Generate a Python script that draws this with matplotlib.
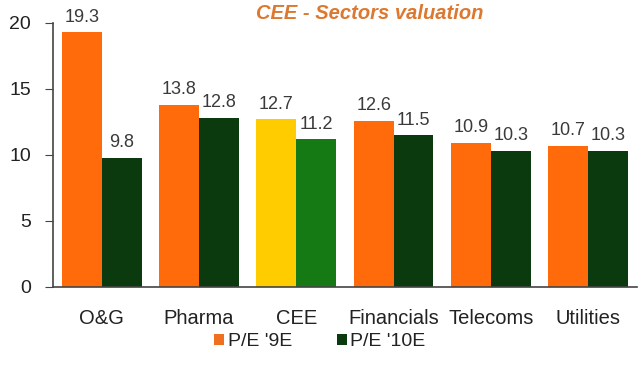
import matplotlib
matplotlib.use("Agg")
import matplotlib.pyplot as plt
import numpy as np
from matplotlib.patches import Patch

plt.rcParams["font.family"] = ["Liberation Sans", "DejaVu Sans"]

categories = ["O&G", "Pharma", "CEE", "Financials", "Telecoms", "Utilities"]
pe_9e = [19.3, 13.8, 12.7, 12.6, 10.9, 10.7]
pe_10e = [9.8, 12.8, 11.2, 11.5, 10.3, 10.3]
series_names = ["P/E '9E", "P/E '10E"]
yticks = [0, 5, 10, 15, 20]

orange = "#FF6A0A"
dgreen = "#0B3A0E"
yellow = "#FFCC00"
mgreen = "#157A14"

fig = plt.figure(figsize=(6.4, 3.77), dpi=100)
ax = fig.add_axes([0.083, 0.239, 0.912, 0.700])

x = np.arange(len(categories))
w = 0.41
c1 = [yellow if c == "CEE" else orange for c in categories]
c2 = [mgreen if c == "CEE" else dgreen for c in categories]
b1 = ax.bar(x - w / 2, pe_9e, w, color=c1)
b2 = ax.bar(x + w / 2, pe_10e, w, color=c2)

for rect, v in zip(list(b1) + list(b2), pe_9e + pe_10e):
    ax.text(rect.get_x() + rect.get_width() / 2, v + 0.5, f"{v:.1f}",
            ha="center", va="bottom", fontsize=13, color="#3A3A3A")

ax.set_xlim(-0.5, len(categories) - 0.5)
ax.set_ylim(0, 20)
ax.set_yticks(yticks)
ax.set_xticks(x)
ax.set_xticklabels(categories, fontsize=14.5, color="#222222")
ax.tick_params(axis="x", length=0, pad=16)
ax.tick_params(axis="y", labelsize=14, length=6, direction="out", colors="#444444",
               labelcolor="#222222", pad=10)
for s in ["top", "right"]:
    ax.spines[s].set_visible(False)
ax.spines["left"].set_color("#444444")
ax.spines["bottom"].set_color("#444444")
ax.spines["left"].set_linewidth(1.2)
ax.spines["bottom"].set_linewidth(1.2)

fig.text(0.578, 0.963, "CEE - Sectors valuation", ha="center", va="center",
         fontsize=14.5, fontweight="bold", fontstyle="italic", color="#DC7830")

handles = [Patch(facecolor="#F07020"), Patch(facecolor=dgreen)]
fig.legend(handles, series_names, loc="center", bbox_to_anchor=(0.5, 0.094),
           ncol=2, frameon=False, fontsize=14, handlelength=0.5, handleheight=0.5,
           handletextpad=0.2, columnspacing=2.3, labelcolor="#222222",
           borderpad=0, borderaxespad=0)

fig.savefig("out.png", dpi=100)
